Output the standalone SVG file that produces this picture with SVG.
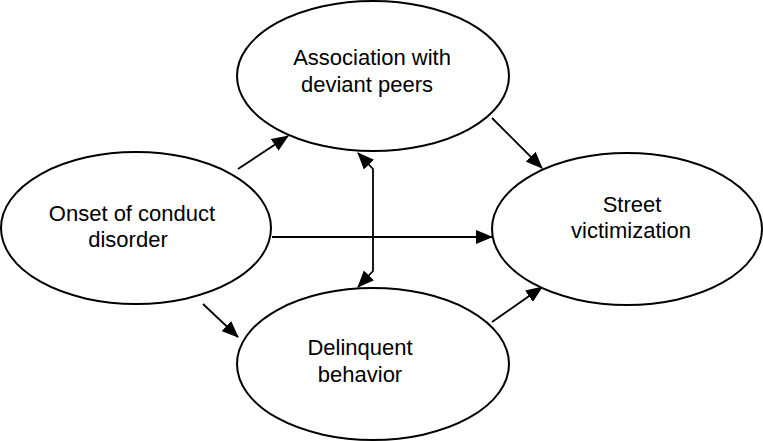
<svg xmlns="http://www.w3.org/2000/svg" width="763" height="441" viewBox="0 0 763 441">
  <style>
    .node ellipse { fill: #ffffff; stroke: #000000; stroke-width: 2; }
    .node text { font-family: "Liberation Sans", Arial, sans-serif; font-size: 22px; fill: #000000; text-anchor: middle; }
    .edge { fill: none; stroke: #000000; stroke-width: 1.8; marker-end: url(#arrow); }
  </style>
  <defs>
    <marker id="arrow" markerUnits="userSpaceOnUse" markerWidth="17" markerHeight="14" viewBox="0 0 17 14" refX="16" refY="7" orient="auto-start-reverse">
      <path d="M0,0 L17,7 L0,14 z" fill="#000000"/>
    </marker>
  </defs>
  <rect width="763" height="441" fill="#ffffff"/>
  <g id="connectors">
    <line class="edge" x1="238" y1="169" x2="288" y2="136"/>
    <line class="edge" x1="492" y1="118" x2="542" y2="168"/>
    <line class="edge" x1="272" y1="237" x2="492" y2="237"/>
    <line class="edge" x1="203" y1="304" x2="238" y2="337"/>
    <line class="edge" x1="492" y1="322" x2="542" y2="287"/>
    <path class="edge" d="M358,153 L373,169 L373,271 L358,287" style="marker-start: url(#arrow);"/>
  </g>
  <g id="onset" class="node">
    <ellipse cx="136" cy="228" rx="135" ry="76"/>
    <text x="132" y="221">Onset of conduct</text>
    <text x="128" y="247">disorder</text>
  </g>
  <g id="association" class="node">
    <ellipse cx="373" cy="76" rx="136" ry="75"/>
    <text x="372" y="65">Association with</text>
    <text x="367" y="92">deviant peers</text>
  </g>
  <g id="street" class="node">
    <ellipse cx="627" cy="229" rx="135" ry="76"/>
    <text x="632" y="212">Street</text>
    <text x="631" y="238">victimization</text>
  </g>
  <g id="delinquent" class="node">
    <ellipse cx="373" cy="364" rx="136" ry="76"/>
    <text x="360" y="355">Delinquent</text>
    <text x="360" y="382">behavior</text>
  </g>
</svg>
